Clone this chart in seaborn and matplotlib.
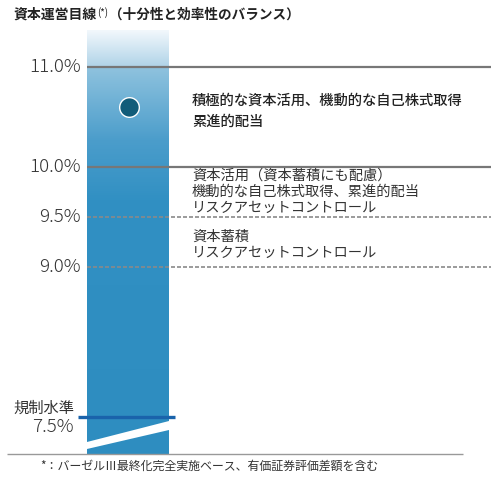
import numpy as np
import matplotlib
matplotlib.use("Agg")
import matplotlib.pyplot as plt
from matplotlib.path import Path
from matplotlib.patches import PathPatch
from matplotlib.colors import to_rgb
import seaborn as sns

# Capital ratio levels shown on the chart
levels = [11.0, 10.0, 9.5, 9.0]
level_labels = ["11.0%", "10.0%", "9.5%", "9.0%"]
level_dashed = [False, False, True, True]
regulatory_level = 7.5
regulatory_label = ["規制水準", "7.5%"]
current_ratio = 10.6

zone_texts = [
    ["積極的な資本活用、機動的な自己株式取得", "累進的配当"],
    ["資本活用（資本蓄積にも配慮）", "機動的な自己株式取得、累進的配当", "リスクアセットコントロール"],
    ["資本蓄積", "リスクアセットコントロール"],
]
title_main = "資本運営目線"
title_sup = "(*)"
title_rest = "（十分性と効率性のバランス）"
footnote = "*：バーゼルⅢ最終化完全実施ベース、有価証券評価差額を含む"

sns.set_theme(style="white")
plt.rcParams['font.family'] = ['Noto Sans CJK JP', 'DejaVu Sans']

W, H = 494, 479
fig = plt.figure(figsize=(W / 100, H / 100), dpi=100)
ax = fig.add_axes([0, 0, 1, 1])


# pixel row -> percent value (100 px per 1%)
def v(py):
    return 11.0 - (py - 67) / 100.0


ax.set_xlim(0, W)
ax.set_ylim(v(H), v(0))
ax.axis("off")

# gradient bar with break
bx0, bx1 = 87, 169
top_py, bot_py = 30, 454
rows = np.arange(top_py, bot_py + 1)
stops_py = [30, 66, 68, 140, 200, 454]
stops_c = ["#f2f8fc", "#b0d4e8", "#8ec2de", "#4b9dcb", "#3190c3", "#2e8dc0"]
rgb = np.array([to_rgb(c) for c in stops_c])
grad = np.stack([np.interp(rows, stops_py, rgb[:, i]) for i in range(3)], axis=1)
img = grad[:, None, :]
im = ax.imshow(img, extent=(bx0, bx1, v(bot_py), v(top_py)), aspect="auto",
               origin="upper", interpolation="bilinear", zorder=1)
upper = Path([(bx0, v(top_py)), (bx1, v(top_py)), (bx1, v(421)), (bx0, v(442)), (bx0, v(top_py))],
             [Path.MOVETO, Path.LINETO, Path.LINETO, Path.LINETO, Path.CLOSEPOLY])
lower = Path([(bx0, v(449)), (bx1, v(430)), (bx1, v(bot_py)), (bx0, v(bot_py)), (bx0, v(449))],
             [Path.MOVETO, Path.LINETO, Path.LINETO, Path.LINETO, Path.CLOSEPOLY])
clip = PathPatch(Path.make_compound_path(upper, lower), transform=ax.transData)
im.set_clip_path(clip)

# level lines and labels
for lvl, lab, dashed in zip(levels, level_labels, level_dashed):
    if dashed:
        ax.hlines(lvl, bx0, 491, colors="#8a8a8a", linewidth=1.2, linestyles=(0, (2.4, 1.2)), zorder=2)
    else:
        ax.hlines(lvl, bx0, 491, colors="#777777", linewidth=1.6, zorder=2)
    ax.text(81, lvl, lab, ha="right", va="center", fontsize=13.5, color="#333333",
            fontweight="light")

# regulatory level
ax.hlines(regulatory_level, 78, 175, colors="#1a63ab", linewidth=2.4, zorder=3)
ax.text(74, v(408), regulatory_label[0], ha="right", va="center", fontsize=11, color="#333333")
ax.text(74, regulatory_level - 0.1, regulatory_label[1], ha="right", va="center", fontsize=13.5,
        color="#333333", fontweight="light")

# baseline
ax.hlines(v(454), 7, 463, colors="#999999", linewidth=1.0, zorder=2)

# current target point
sns.scatterplot(x=[129], y=[current_ratio], ax=ax, s=200, color="#125c79",
                edgecolor="white", linewidth=1, zorder=4, legend=False)

# zone descriptions
zone_rows = [[101, 122], [176, 192, 208], [237, 253]]
for i, (lines, rows_py) in enumerate(zip(zone_texts, zone_rows)):
    for line, py in zip(lines, rows_py):
        ax.text(192, v(py), line, ha="left", va="center", fontsize=10.3,
                color="#222222" if i == 0 else "#333333",
                fontweight="medium" if i == 0 else "normal")

# title with superscript
t1 = ax.text(14, v(15), title_main, ha="left", va="center", fontsize=10, fontweight="bold",
             color="#222222")
t2 = ax.annotate(title_sup, xy=(1, 1.05), xycoords=t1, ha="left", va="top", fontsize=7,
                 color="#222222")
ax.annotate(title_rest, xy=(1, 0), xycoords=(t2, t1), xytext=(0.5, 0), textcoords="offset points",
            ha="left", va="bottom", fontsize=9.8, fontweight="bold", color="#222222")

# footnote
ax.text(40, v(466), footnote, ha="left", va="center", fontsize=8.6, color="#333333")

fig.savefig("out.png", dpi=100)
